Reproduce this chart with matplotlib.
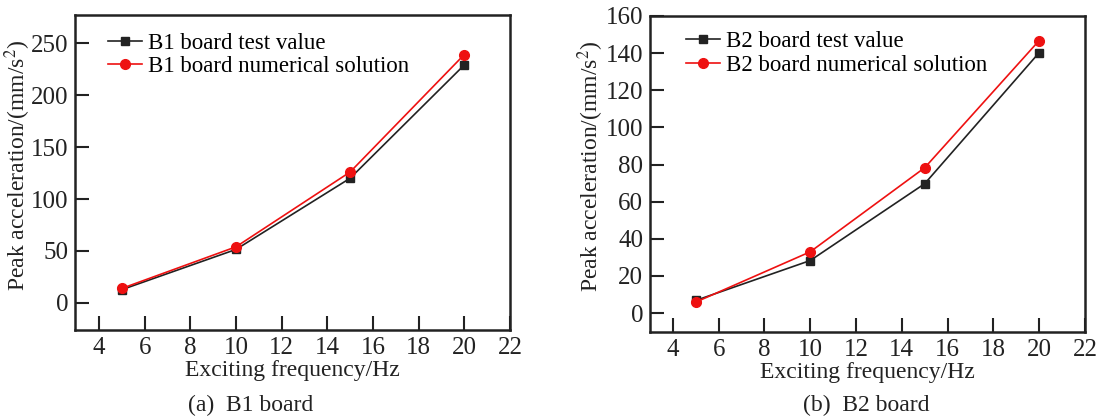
import matplotlib.pyplot as plt

plt.rcParams["font.family"] = ["Liberation Serif", "DejaVu Serif"]
plt.rcParams["mathtext.fontset"] = "stix"

freq = [5, 10, 15, 20]

b1_test = [12.8, 51.5, 120, 229]
b1_num = [14, 54, 126, 239]

b2_test = [6.8, 28.3, 69.7, 140.3]
b2_num = [5.9, 33, 78.3, 146.8]

xticks = [4, 6, 8, 10, 12, 14, 16, 18, 20, 22]
b1_yticks = [0, 50, 100, 150, 200, 250]
b2_yticks = [0, 20, 40, 60, 80, 100, 120, 140, 160]

W, H = 1098, 419
fig = plt.figure(figsize=(W / 100, H / 100), dpi=100)
ink = "#222222"


def make_axes(x0, x1, y0, y1):
    return fig.add_axes([x0 / W, (H - y1) / H, (x1 - x0) / W, (y1 - y0) / H])


def style(ax, yticks, ylim, xlim, lab_x, leg_x, leg_y, caption, cap_x):
    ax.set_xlim(*xlim)
    ax.set_ylim(*ylim)
    ax.set_xticks(xticks)
    ax.set_yticks(yticks)
    ax.tick_params(direction="in", length=10, width=1.5, labelsize=18,
                   colors=ink, pad=5)
    for s in ax.spines.values():
        s.set_linewidth(1.8)
        s.set_color(ink)
    ax.set_xlabel("Exciting frequency/Hz", fontsize=17, color=ink, labelpad=1)
    ax.set_ylabel("Peak acceleration/(mm/s$^2$)", fontsize=17, color=ink)
    ax.yaxis.set_label_coords(lab_x, 0.523)
    ax.legend(loc="upper left", bbox_to_anchor=(leg_x, leg_y), frameon=False,
              fontsize=16.5, handlelength=1.5, handletextpad=0.25,
              labelspacing=0.1, borderaxespad=0, borderpad=0)
    fig.text(cap_x / W, (H - 405) / H, caption, ha="left", va="center",
             fontsize=17, color=ink)


ax1 = make_axes(75, 510, 15, 330)
ax1.plot(freq, b1_test, color=ink, lw=1.2, marker="s", ms=6,
         label="B1 board test value")
ax1.plot(freq, b1_num, color="#ee1111", lw=1.2, marker="o", ms=7,
         label="B1 board numerical solution")
style(ax1, b1_yticks, (-26, 277), (2.95, 22), -0.097, 0.076, 0.943,
      "(a)  B1 board", 188)

ax2 = make_axes(650, 1085, 16, 332)
ax2.plot(freq, b2_test, color=ink, lw=1.2, marker="s", ms=6,
         label="B2 board test value")
ax2.plot(freq, b2_num, color="#ee1111", lw=1.2, marker="o", ms=7,
         label="B2 board numerical solution")
style(ax2, b2_yticks, (-10.2, 160), (3.0, 22), -0.102, 0.083, 0.952,
      "(b)  B2 board", 803)

fig.savefig("out.png", dpi=100, facecolor="white")
